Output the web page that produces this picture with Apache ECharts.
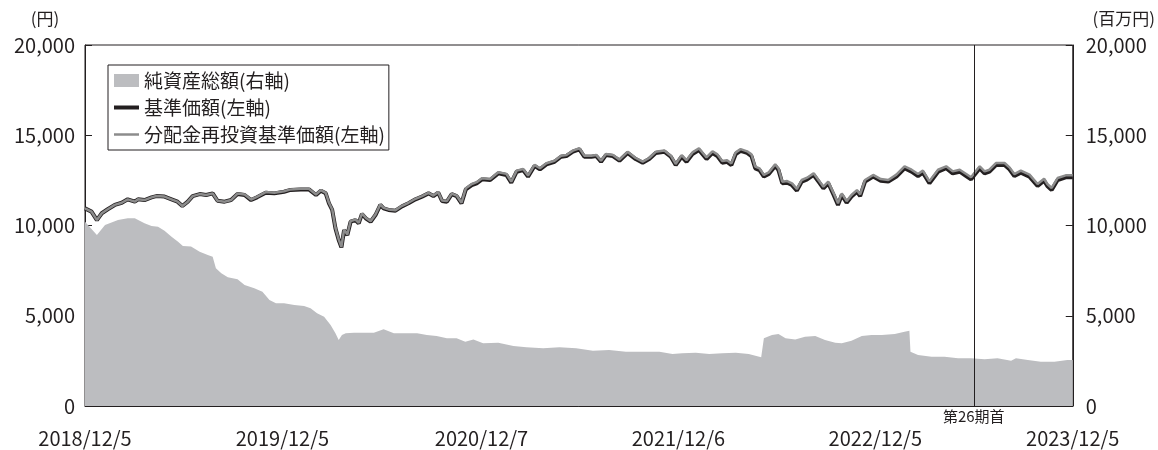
<!DOCTYPE html>
<html><head><meta charset="utf-8">
<script src="https://cdn.jsdelivr.net/npm/echarts@6/dist/echarts.min.js"></script>
<style>html,body{margin:0;padding:0;background:#fff}#c{width:1158px;height:450px}</style>
</head><body><div id="c"></div>
<script>
// Day offsets from 2018/12/5
const navDays = [0,12,22,31,42,55,68,79,92,98,110,123,132,147,160,171,180,190,199,212,224,236,245,258,270,282,295,307,318,334,350,368,380,399,414,427,436,445,451,457,463,469,474,479,485,491,500,506,512,519,528,537,546,552,561,574,586,598,611,623,635,644,653,660,669,678,687,696,704,715,724,734,749,764,779,788,798,810,819,831,841,853,868,880,890,902,914,923,936,945,954,963,976,988,1003,1018,1031,1043,1055,1071,1083,1092,1103,1112,1123,1135,1149,1160,1169,1178,1187,1195,1203,1212,1224,1232,1239,1247,1255,1264,1276,1282,1289,1298,1307,1316,1325,1335,1347,1356,1365,1374,1384,1392,1399,1408,1417,1427,1433,1442,1457,1471,1485,1500,1515,1528,1540,1549,1561,1577,1592,1604,1617,1629,1638,1654,1663,1672,1684,1700,1709,1718,1730,1746,1761,1773,1779,1787,1798,1813,1826];
// 基準価額 (円)
const nav = [10950,10770,10300,10680,10900,11140,11260,11450,11320,11450,11410,11560,11630,11600,11450,11320,11080,11320,11630,11740,11690,11780,11370,11320,11410,11740,11690,11410,11560,11820,11780,11870,11970,12000,12000,11690,11930,11780,11230,10860,9840,9200,8790,9750,9470,10210,10300,10120,10640,10400,10210,10580,11140,10950,10860,10820,11060,11230,11450,11600,11780,11630,11820,11360,11320,11740,11630,11230,12000,12240,12340,12560,12520,12890,12800,12370,12980,13070,12710,13300,13110,13390,13530,13810,13850,14090,14220,13810,13810,13850,13530,13900,13850,13590,14020,13680,13480,13680,14020,14090,13810,13350,13810,13530,13960,14180,13680,14020,13850,13480,13530,13350,13960,14140,14020,13850,13170,13070,12710,12850,13300,13070,12340,12370,12240,11930,12430,12560,12800,12430,12060,12340,11690,11140,11690,11260,11600,11870,11630,12430,12710,12480,12430,12710,13170,12980,12740,12930,12340,12980,13170,12890,12980,12740,12560,13170,12890,12980,13350,13350,13110,12740,12930,12710,12190,12480,12190,11970,12520,12670,12670];
// 分配金再投資基準価額 (円)
const reinv = [10950,10770,10300,10680,10900,11140,11260,11450,11320,11450,11410,11560,11630,11600,11450,11320,11080,11320,11630,11740,11690,11780,11370,11320,11410,11770,11720,11440,11590,11850,11810,11900,12000,12030,12030,11720,11960,11810,11260,10890,9870,9230,8820,9780,9500,10240,10330,10150,10670,10430,10240,10610,11170,10980,10890,10850,11090,11260,11480,11630,11810,11660,11850,11390,11350,11770,11660,11260,12060,12300,12400,12620,12580,12950,12860,12430,13040,13130,12770,13360,13170,13450,13590,13870,13910,14150,14280,13870,13870,13910,13590,13960,13910,13650,14080,13740,13540,13740,14080,14150,13870,13410,13900,13620,14050,14270,13770,14110,13940,13570,13620,13440,14050,14230,14110,13940,13260,13160,12800,12940,13390,13160,12430,12460,12330,12020,12520,12650,12890,12520,12150,12430,11780,11230,11780,11350,11690,11960,11720,12520,12800,12570,12520,12820,13280,13090,12850,13040,12450,13090,13280,13000,13090,12850,12670,13280,13000,13090,13460,13460,13220,12850,13040,12820,12300,12590,12300,12080,12630,12780,12780];
// 純資産総額 (百万円)
const aumDays = [0,22,37,61,79,92,101,110,123,135,147,160,172,181,196,212,227,236,242,252,264,282,295,313,328,341,353,368,387,405,417,429,442,454,463,469,475,482,497,515,534,552,571,589,614,632,650,669,687,703,718,736,764,792,816,847,877,908,939,969,1000,1031,1062,1086,1104,1129,1154,1178,1203,1227,1250,1255,1270,1282,1295,1313,1331,1350,1368,1387,1399,1417,1436,1454,1473,1497,1515,1524,1526,1540,1565,1589,1614,1638,1663,1687,1712,1721,1743,1767,1792,1816,1826];
const aum = [10210,9470,10030,10300,10400,10400,10270,10120,9970,9930,9710,9380,9100,8860,8830,8550,8370,8270,7630,7350,7130,7020,6700,6520,6330,5870,5690,5690,5600,5540,5410,5140,4950,4490,4030,3660,3930,4030,4060,4060,4060,4250,4030,4030,4030,3930,3880,3750,3750,3560,3690,3470,3510,3320,3250,3200,3250,3200,3060,3100,3010,3010,3010,2880,2920,2950,2880,2920,2950,2880,2700,3750,3930,3990,3750,3690,3840,3880,3660,3510,3470,3620,3880,3930,3930,3990,4120,4170,3010,2830,2730,2730,2640,2640,2590,2640,2510,2640,2550,2450,2450,2550,2550];

const startDate = '2018-12-05';
const endDate = '2023-12-05';
const tickDates = ['2018-12-05','2019-12-05','2020-12-07','2021-12-06','2022-12-05','2023-12-05'];
const tickLabels = ['2018/12/5','2019/12/5','2020/12/7','2021/12/6','2022/12/5','2023/12/5'];
const periodDate = '2023-06-05';
const periodLabel = '第26期首';

const DAY = 86400000;
const ts = s => { const p = s.split('-').map(Number); return Date.UTC(p[0], p[1]-1, p[2]); };
const dayOf = s => Math.round((ts(s) - ts(startDate)) / DAY);
const pairs = (days, vals) => days.map((d, i) => [d, vals[i]]);
const tickDays = tickDates.map(dayOf);

const FONT = '"Noto Sans CJK JP", "Noto Sans", sans-serif';
const INK = '#231f20';
const AREA = '#bcbdc0';
const GRAY = '#8c8c8c';

const chart = echarts.init(document.getElementById('c'), null, {renderer:'canvas'});
chart.setOption({
  animation: false,
  textStyle: {fontFamily: FONT, color: INK},
  grid: {left: 85, right: 81, top: 45, bottom: 44, show: true, borderColor: INK, borderWidth: 1, backgroundColor: 'transparent'},
  legend: {
    orient: 'vertical', left: 108, top: 65,
    borderColor: INK, borderWidth: 1, backgroundColor: '#fff',
    padding: [6, 4, 6, 6], itemGap: 8, itemWidth: 25, itemHeight: 13,
    textStyle: {fontFamily: FONT, fontSize: 19, color: INK},
    data: [
      {name: '純資産総額(右軸)', icon: 'rect', itemStyle: {color: AREA}},
      {name: '基準価額(左軸)', icon: 'path://M0,0H25V4H0Z', itemStyle: {color: INK, borderWidth: 0}},
      {name: '分配金再投資基準価額(左軸)', icon: 'path://M0,0H25V2.5H0Z', itemStyle: {color: GRAY, borderWidth: 0}}
    ]
  },
  xAxis: {
    type: 'value', min: 0, max: dayOf(endDate),
    axisLine: {show: true, onZero: false, lineStyle: {color: INK, width: 1}},
    axisTick: {show: true, inside: true, length: 7, lineStyle: {color: '#555'}, customValues: tickDays.slice(1, -1)},
    axisLabel: {
      customValues: tickDays, margin: 22, fontSize: 20, color: INK, fontFamily: FONT,
      formatter: v => { const i = tickDays.indexOf(v); return i >= 0 ? tickLabels[i] : ''; }
    },
    splitLine: {show: false}
  },
  yAxis: [
    {
      type: 'value', min: 0, max: 20000, interval: 5000,
      name: '(円)', nameLocation: 'end', nameGap: 18,
      nameTextStyle: {fontSize: 17, color: INK, fontFamily: FONT, align: 'center', padding: [0, 80, 0, 0]},
      axisLine: {show: true, lineStyle: {color: INK}},
      axisTick: {show: true, inside: true, length: 7, lineStyle: {color: INK}},
      axisLabel: {margin: 10, fontSize: 20, color: INK, fontFamily: FONT,
        formatter: v => v.toLocaleString('en-US')},
      splitLine: {show: false}
    },
    {
      type: 'value', min: 0, max: 20000, interval: 5000, position: 'right',
      name: '(百万円)', nameLocation: 'end', nameGap: 18,
      nameTextStyle: {fontSize: 17, color: INK, fontFamily: FONT, align: 'center', padding: [0, 0, 0, 102]},
      axisLine: {show: true, lineStyle: {color: INK}},
      axisTick: {show: true, inside: true, length: 7, lineStyle: {color: INK}},
      axisLabel: {margin: 13, fontSize: 20, color: INK, fontFamily: FONT,
        formatter: v => v.toLocaleString('en-US')},
      splitLine: {show: false}
    }
  ],
  series: [
    {
      name: '純資産総額(右軸)', type: 'line', yAxisIndex: 1, symbol: 'none', showSymbol: false,
      data: pairs(aumDays, aum),
      lineStyle: {width: 0, color: AREA}, itemStyle: {color: AREA},
      areaStyle: {color: AREA, opacity: 1}, z: 1
    },
    {
      name: '基準価額(左軸)', type: 'line', yAxisIndex: 0, symbol: 'none', showSymbol: false,
      data: pairs(navDays, nav),
      lineStyle: {width: 4, color: INK}, itemStyle: {color: INK}, z: 2,
      markLine: {
        silent: true, symbol: ['none', 'none'],
        lineStyle: {color: INK, width: 1, type: 'solid'},
        label: {show: true, position: 'start', formatter: periodLabel, fontSize: 15, color: INK, fontFamily: FONT, distance: 3},
        data: [{xAxis: dayOf(periodDate)}]
      }
    },
    {
      name: '分配金再投資基準価額(左軸)', type: 'line', yAxisIndex: 0, symbol: 'none', showSymbol: false,
      data: pairs(navDays, reinv),
      lineStyle: {width: 2.5, color: GRAY}, itemStyle: {color: GRAY}, z: 3
    }
  ]
});
</script>
</body></html>
